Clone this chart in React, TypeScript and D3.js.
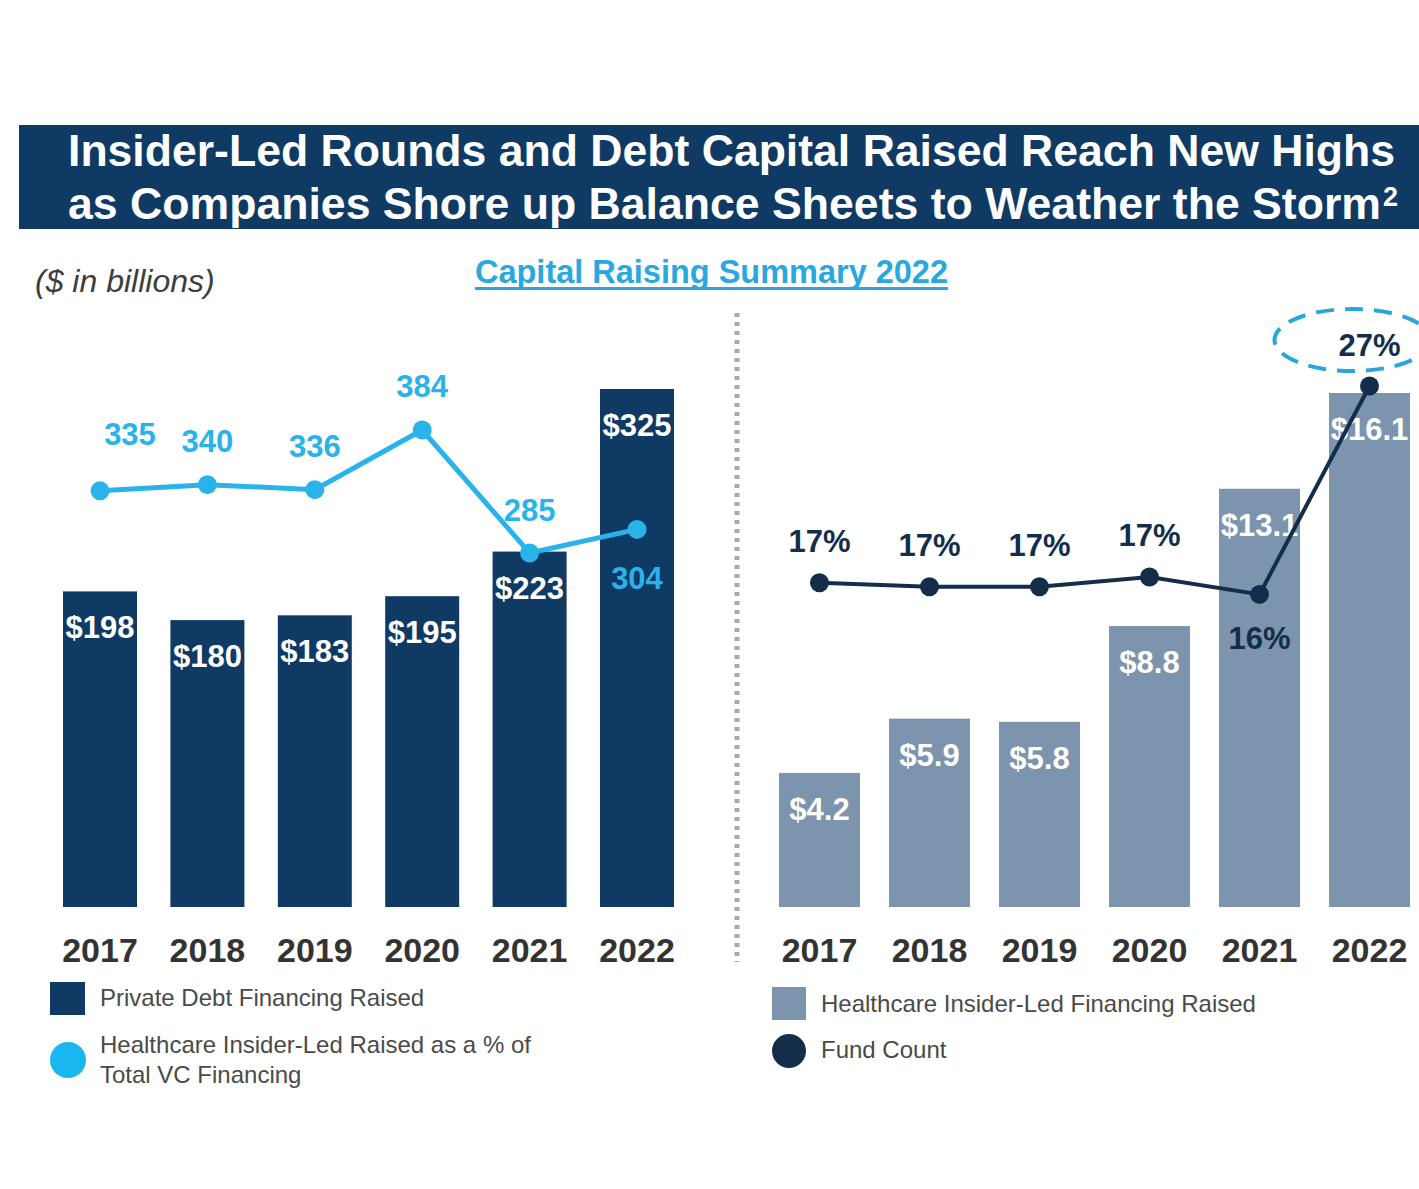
import React from "react";
import * as d3 from "d3";

const years = ["2017", "2018", "2019", "2020", "2021", "2022"];

// left panel
const debtRaised = [198, 180, 183, 195, 223, 325];
const debtLabels = ["$198", "$180", "$183", "$195", "$223", "$325"];
const insiderPctRaised = [335, 340, 336, 384, 285, 304];
const insiderPctLabels = ["335", "340", "336", "384", "285", "304"];

// right panel
const insiderRaised = [4.2, 5.9, 5.8, 8.8, 13.1, 16.1];
const insiderLabels = ["$4.2", "$5.9", "$5.8", "$8.8", "$13.1", "$16.1"];
const fundCount = [16.8, 16.6, 16.6, 17.1, 16.2, 27];
const fundCountLabels = ["17%", "17%", "17%", "17%", "16%", "27%"];

const W = 1419;
const H = 1189;
const NAVY = "#0f3a63";
const SKY = "#29b3ea";
const SLATE = "#7c94ad";
const DARK = "#142d4a";
const FONT = "'Liberation Sans', Arial, sans-serif";

// label placement relative to each point (center x offset, baseline y offset)
const leftLineLabelPos = [[30, -46], [0, -33], [0, -33], [0, -33], [0, -32], [0, 60]];
const rightLineLabelPos = [[0, -31], [0, -31], [0, -31], [0, -31], [0, 55], [0, -30]];

export default function App() {
  const baseY = 907;

  const xL = d3.scaleBand<string>().domain(years).range([63, 674]).paddingInner(0.311).paddingOuter(0);
  const yLBar = d3.scaleLinear().domain([0, 325]).range([baseY, 389]);
  const yLLine = d3.scaleLinear().domain([0, 384]).range([baseY, 430]);

  const xR = d3.scaleBand<string>().domain(years).range([779, 1410]).paddingInner(0.264).paddingOuter(0);
  const yRBar = d3.scaleLinear().domain([0, 16.1]).range([baseY, 393]);
  const yRLine = d3.scaleLinear().domain([0, 27]).range([baseY, 386]);

  const cL = (y: string) => (xL(y) as number) + xL.bandwidth() / 2;
  const cR = (y: string) => (xR(y) as number) + xR.bandwidth() / 2;

  const lineL = d3.line<number>().x((_, i) => cL(years[i])).y((d) => yLLine(d));
  const lineR = d3.line<number>().x((_, i) => cR(years[i])).y((d) => yRLine(d));

  const last = years.length - 1;

  return (
    <div style={{ position: "absolute", left: 0, top: 0 }}>
      <svg width={W} height={H} style={{ display: "block", background: "#fff" }} fontFamily={FONT}>
        {/* title banner */}
        <rect x={19} y={125} width={W - 19} height={104} fill={NAVY} />
        <text x={68} y={166} fill="#fff" fontSize={44} fontWeight="bold" textLength={1327} lengthAdjust="spacingAndGlyphs">
          Insider-Led Rounds and Debt Capital Raised Reach New Highs
        </text>
        <text x={68} y={219} fill="#fff" fontSize={44} fontWeight="bold" textLength={1313} lengthAdjust="spacingAndGlyphs">
          as Companies Shore up Balance Sheets to Weather the Storm
        </text>
        <text x={1383} y={206} fill="#fff" fontSize={27} fontWeight="bold">2</text>

        <text x={35} y={292} fill="#3d3d3d" fontSize={32} fontStyle="italic">($ in billions)</text>
        <text x={475} y={283} fill="#29a8e0" fontSize={33} fontWeight="bold" textLength={473} lengthAdjust="spacingAndGlyphs">
          Capital Raising Summary 2022
        </text>
        <rect x={475} y={287} width={473} height={3} fill="#29a8e0" />

        {/* divider */}
        <line x1={737} x2={737} y1={313} y2={962} stroke="#a8a8a8" strokeWidth={5} strokeDasharray="4,5" />

        {/* left panel bars */}
        {debtRaised.map((v, i) => (
          <rect key={"lb" + i} x={xL(years[i])} y={yLBar(v)} width={xL.bandwidth()} height={baseY - yLBar(v)} fill={NAVY} />
        ))}
        {debtRaised.map((v, i) => (
          <text key={"lbl" + i} x={cL(years[i])} y={yLBar(v) + 47} textAnchor="middle" fill="#fff" fontSize={31} fontWeight="bold">
            {debtLabels[i]}
          </text>
        ))}
        <path d={lineL(insiderPctRaised) || ""} fill="none" stroke={SKY} strokeWidth={5} />
        {insiderPctRaised.map((v, i) => (
          <circle key={"lc" + i} cx={cL(years[i])} cy={yLLine(v)} r={9.5} fill={SKY} />
        ))}
        {insiderPctRaised.map((v, i) => (
          <text key={"ll" + i} x={cL(years[i]) + leftLineLabelPos[i][0]} y={yLLine(v) + leftLineLabelPos[i][1]} textAnchor="middle" fill={SKY} fontSize={31} fontWeight="bold">
            {insiderPctLabels[i]}
          </text>
        ))}
        {years.map((y) => (
          <text key={"lx" + y} x={cL(y)} y={962} textAnchor="middle" fill="#333" fontSize={34} fontWeight="bold">{y}</text>
        ))}

        {/* right panel bars */}
        {insiderRaised.map((v, i) => (
          <rect key={"rb" + i} x={xR(years[i])} y={yRBar(v)} width={xR.bandwidth()} height={baseY - yRBar(v)} fill={SLATE} />
        ))}
        {insiderRaised.map((v, i) => (
          <text key={"rbl" + i} x={cR(years[i])} y={yRBar(v) + 47} textAnchor="middle" fill="#fff" fontSize={31} fontWeight="bold">
            {insiderLabels[i]}
          </text>
        ))}
        <path d={lineR(fundCount) || ""} fill="none" stroke={DARK} strokeWidth={4} />
        {fundCount.map((v, i) => (
          <circle key={"rc" + i} cx={cR(years[i])} cy={yRLine(v)} r={9.5} fill={DARK} />
        ))}
        {fundCount.map((v, i) => (
          <text key={"rl" + i} x={cR(years[i]) + rightLineLabelPos[i][0]} y={yRLine(v) + rightLineLabelPos[i][1]} textAnchor="middle" fill={DARK} fontSize={31} fontWeight="bold">
            {fundCountLabels[i]}
          </text>
        ))}
        <ellipse cx={cR(years[last]) - 17} cy={yRLine(fundCount[last]) - 46} rx={78} ry={31} fill="none" stroke="#2ba6dd" strokeWidth={4} strokeDasharray="18,11" />
        {years.map((y) => (
          <text key={"rx" + y} x={cR(y)} y={962} textAnchor="middle" fill="#333" fontSize={34} fontWeight="bold">{y}</text>
        ))}

        {/* legends */}
        <rect x={50} y={982} width={35} height={33} fill={NAVY} />
        <text x={100} y={1006} fill="#4a4a4a" fontSize={24}>Private Debt Financing Raised</text>
        <circle cx={68} cy={1060} r={18} fill="#1ab6ef" />
        <text x={100} y={1053} fill="#4a4a4a" fontSize={24}>Healthcare Insider-Led Raised as a % of</text>
        <text x={100} y={1083} fill="#4a4a4a" fontSize={24}>Total VC Financing</text>

        <rect x={772} y={987} width={34} height={33} fill={SLATE} />
        <text x={821} y={1012} fill="#4a4a4a" fontSize={24}>Healthcare Insider-Led Financing Raised</text>
        <circle cx={789} cy={1051} r={17} fill={DARK} />
        <text x={821} y={1058} fill="#4a4a4a" fontSize={24}>Fund Count</text>
      </svg>
    </div>
  );
}
